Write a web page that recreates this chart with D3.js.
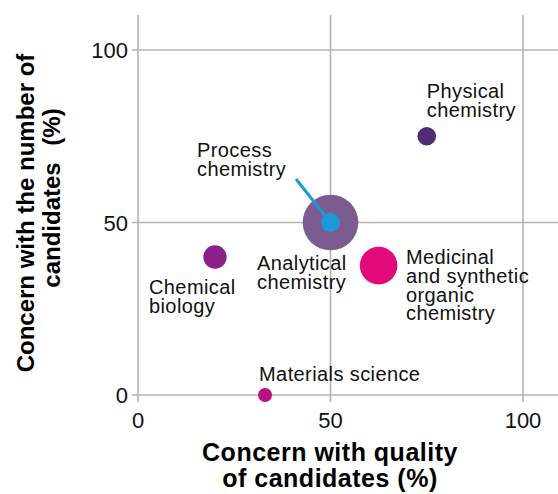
<!DOCTYPE html>
<html><head><meta charset="utf-8">
<script src="https://cdn.jsdelivr.net/npm/d3@7"></script>
<style>body{margin:0;background:#fff}svg{display:block}text{font-family:"Liberation Sans",Arial,sans-serif}</style>
</head><body><svg id="c" width="558" height="494"></svg>
<script>
const fields = ["Physical chemistry","Analytical chemistry","Process chemistry","Chemical biology","Medicinal and synthetic organic chemistry","Materials science"];
const qualityConcern = [75, 50, 50, 20, 62.5, 33];
const numberConcern = [75, 50, 50, 40, 37.5, 0];
const bubbleSize = [9.3, 27.8, 9.5, 11.7, 18.8, 7];
const colors = ["#4f2c73","#7c5b91","#1a9ad6","#8c2089","#e2097b","#b8127f"];
const labelLines = [["Physical","chemistry"],["Analytical","chemistry"],["Process","chemistry"],["Chemical","biology"],["Medicinal","and synthetic","organic","chemistry"],["Materials science"]];
const xTicks = [0,50,100];
const yTicks = [0,50,100];

const svg = d3.select("#c");
const x = d3.scaleLinear().domain([0,100]).range([138,523]);
const y = d3.scaleLinear().domain([0,100]).range([395,50]);
const yTop = 15, yBot = 402, xLeft = 132, xRight = 558;
const gridCol = "#b3b3b3";

// vertical grid
svg.append("g").selectAll("line").data(xTicks).join("line")
  .attr("x1", d=>x(d)).attr("x2", d=>x(d)).attr("y1", yTop).attr("y2", yBot)
  .attr("stroke", gridCol).attr("stroke-width", 1.6);
// horizontal grid
svg.append("g").selectAll("line").data(yTicks).join("line")
  .attr("x1", xLeft).attr("x2", xRight).attr("y1", d=>y(d)).attr("y2", d=>y(d))
  .attr("stroke", gridCol).attr("stroke-width", 1.6);

// tick labels
svg.append("g").selectAll("text").data(xTicks).join("text")
  .attr("x", d=>x(d)).attr("y", 428).attr("text-anchor","middle")
  .attr("font-size", 22).attr("fill","#111").text(d=>d);
svg.append("g").selectAll("text").data(yTicks).join("text")
  .attr("x", 128).attr("y", d=>y(d)+8).attr("text-anchor","end")
  .attr("font-size", 22).attr("fill","#111").text(d=>d);

// axis titles
const xt = svg.append("text").attr("text-anchor","middle").attr("font-size",25).attr("font-weight","bold")
  .attr("letter-spacing",0.5).attr("fill","#000");
xt.append("tspan").attr("x",330).attr("y",461).text("Concern with quality");
xt.append("tspan").attr("x",330).attr("y",487).text("of candidates (%)");
svg.append("text").attr("transform","translate(34,213) rotate(-90)").attr("text-anchor","middle")
  .attr("font-size",24).attr("font-weight","bold").attr("fill","#000").text("Concern with the number of");
svg.append("text").attr("transform","translate(60,198) rotate(-90)").attr("text-anchor","middle")
  .attr("font-size",24).attr("word-spacing",10).attr("font-weight","bold").attr("fill","#000").text("candidates (%)");

// bubbles
const data = fields.map((f,i)=>({f, q:qualityConcern[i], n:numberConcern[i], r:bubbleSize[i], c:colors[i], lines:labelLines[i]}));
svg.append("g").selectAll("circle").data(data).join("circle")
  .attr("cx", d=>x(d.q)).attr("cy", d=>y(d.n)).attr("r", d=>d.r).attr("fill", d=>d.c);

// leader line for process chemistry
const pc = data[2];
svg.append("line").attr("x1", 296).attr("y1", 179).attr("x2", x(pc.q)).attr("y2", y(pc.n))
  .attr("stroke", pc.c).attr("stroke-width", 3);

// labels: offsets relative to bubble centre
const labelPos = [[0,-38],[-73.5,47.5],[-133.5,-65.5],[-66,37],[27.4,-1.6],[-6,-14]];
const lh = 18.8;
data.forEach((d,i)=>{
  const t = svg.append("text").attr("font-size",20).attr("letter-spacing",0.4).attr("fill","#111");
  d.lines.forEach((l,j)=>{
    t.append("tspan").attr("x", x(d.q)+labelPos[i][0]).attr("y", y(d.n)+labelPos[i][1]+j*lh).text(l);
  });
});
</script></body></html>
